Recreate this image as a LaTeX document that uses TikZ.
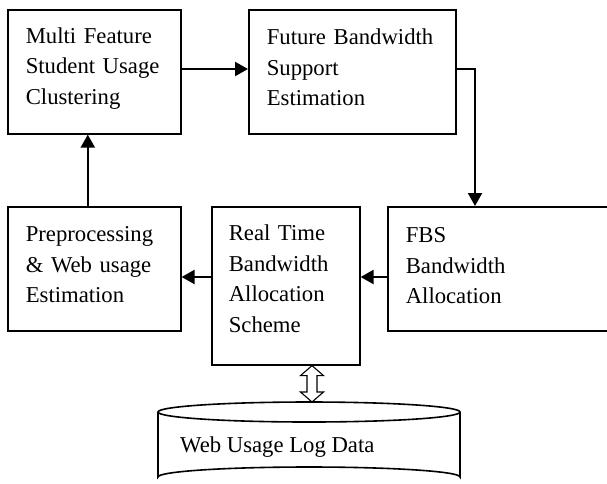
\documentclass[tikz,border=0pt]{standalone}
\usepackage{fontspec}
\setmainfont{Liberation Serif}
\usetikzlibrary{arrows.meta,calc}
\newcommand\dpx[1]{\rule[-#1]{0pt}{#1}}
\begin{document}
\begin{tikzpicture}[x=1pt,y=-1pt,
  box/.style={draw,line width=1.6pt,align=left,inner ysep=0pt,inner xsep=18pt,
    font=\fontsize{22.7}{30.5}\selectfont},
  arr/.style={line width=2.2pt,-{Triangle[length=13pt,width=14pt]}},
  lbl/.style={font=\fontsize{22.7}{30.5}\selectfont,inner sep=0pt}]
\useasboundingbox (0,0) rectangle (607,483);
\clip (0,0) rectangle (607,483);
\node[box,text width=137pt,minimum height=124pt,anchor=north west] (A) at (7,9)
  {Multi Feature\\Student Usage\\Clustering\dpx{12pt}};
\node[box,text width=171pt,minimum height=124pt,anchor=north west] (B) at (248,9)
  {Future Bandwidth\\Support\\Estimation\dpx{9pt}};
\node[box,text width=137pt,minimum height=124pt,anchor=north west] (P) at (7,206)
  {Preprocessing\\\& Web usage\\Estimation\dpx{8pt}};
\node[box,text width=114pt,inner xsep=17pt,minimum height=158pt,anchor=north west] (R) at (211,206)
  {Real Time\\Bandwidth\\Allocation\\Scheme\dpx{14pt}};
\node[box,text width=187pt,minimum height=124pt,anchor=north west] (F) at (387,206)
  {FBS\\Bandwidth\\Allocation\dpx{6pt}};
% connectors
\coordinate (ytop) at (0,69);
\coordinate (ymid) at (0,277);
\coordinate (bf) at (475,206);
\draw[arr] (A.east |- ytop) -- (B.west |- ytop);
\draw[arr] (B.east |- ytop) -| (bf);
\draw[arr] (F.west |- ymid) -- (R.east |- ymid);
\draw[arr] (R.west |- ymid) -- (P.east |- ymid);
\draw[arr] ([xshift=-6.5pt]P.north) -- ([xshift=-6.5pt]A.south);
% cylinder
\draw[line width=1.6pt] (158,412) -- (158,477) arc[start angle=180,end angle=360,x radius=151,y radius=10] -- (460,412);
\draw[line width=1.6pt] (309,412) ellipse[x radius=151,y radius=10];
\node[lbl,anchor=base west] (D) at (180,452) {Web Usage Log Data};
% double arrow
\coordinate (t) at (R.south -| 312,0);
\coordinate (b) at (312,402);
\draw[line width=1.1pt,fill=white] (t) -- ++(11.5,10) -- ++(-6.5,0) -- ($(b)+(5,-10)$) -- ++(6.5,0) -- (b)
  -- ++(-11.5,-10) -- ++(6.5,0) -- ($(t)+(-5,10)$) -- ++(-6.5,0) -- cycle;
\end{tikzpicture}
\end{document}
